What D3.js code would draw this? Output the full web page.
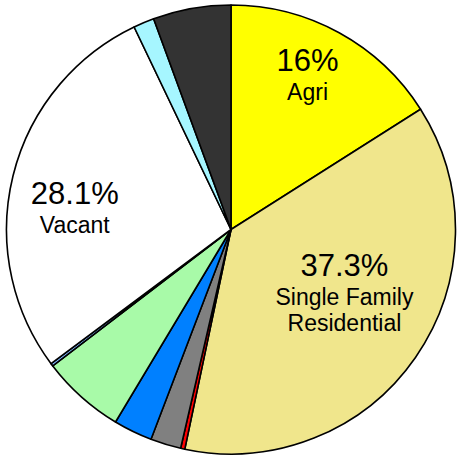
<!DOCTYPE html>
<html>
<head>
<meta charset="utf-8">
<script src="https://cdn.jsdelivr.net/npm/d3@7"></script>
<style>
  html, body { margin: 0; padding: 0; background: #fff; }
  svg { display: block; font-family: "Liberation Sans", Arial, sans-serif; }
</style>
</head>
<body>
<div id="chart"></div>
<script>
// land use shares, clockwise from 12 o'clock
var categories = ["Agri", "Single Family Residential", "Commercial", "Industrial",
                  "Public", "Multi Family Residential", "Utilities", "Vacant",
                  "Water", "Other"];
var shares = [16, 37.3, 0.3, 2.2, 2.8, 6.0, 0.2, 28.1, 1.5, 5.6];
var colors = ["#ffff00", "#f0e68c", "#ff0000", "#808080", "#0080ff",
              "#a8faa8", "#80b8ff", "#ffffff", "#a6f6ff", "#333333"];
// only the big slices carry a label
var labelled = ["Agri", "Single Family Residential", "Vacant"];
var labelLines = {
    "Agri": ["Agri"],
    "Single Family Residential": ["Single Family", "Residential"],
    "Vacant": ["Vacant"]
};

function drawPie(elementid) {
    var width = 457,
        height = 456,
        radius = 224.5;

    var data = categories.map(function(c, i) {
        return { name: c, value: shares[i], color: colors[i] };
    });

    var pie = d3.pie()
        .sort(null)
        .value(function(d) { return d.value; });

    var arc = d3.arc()
        .innerRadius(0)
        .outerRadius(radius);

    var labelArc = d3.arc()
        .innerRadius(radius * 0.68)
        .outerRadius(radius * 0.68);

    var svg = d3.select(elementid).append("svg")
        .attr("width", width)
        .attr("height", height);

    var g = svg.append("g")
        .attr("transform", "translate(231,229.5)");

    g.selectAll("path.slice")
        .data(pie(data))
        .enter().append("path")
        .attr("class", "slice")
        .attr("d", arc)
        .attr("fill", function(d) { return d.data.color; })
        .attr("stroke", "#000")
        .attr("stroke-width", 1.6)
        .attr("stroke-linejoin", "round");

    // small hand tweaks so labels sit where the original put them
    var nudge = {
        "Agri": [3, -9],
        "Single Family Residential": [-12, -12],
        "Vacant": [-8, 27]
    };

    var lab = g.selectAll("g.lab")
        .data(pie(data).filter(function(d) { return labelled.indexOf(d.data.name) >= 0; }))
        .enter().append("g")
        .attr("class", "lab")
        .attr("transform", function(d) {
            var c = labelArc.centroid(d);
            var n = nudge[d.data.name];
            return "translate(" + (c[0] + n[0]) + "," + (c[1] + n[1]) + ")";
        });

    lab.each(function(d) {
        var lines = labelLines[d.data.name];
        var blockH = 29 + 26 * (lines.length - 1);
        var base = -blockH / 2 - 1;   // baseline of the percentage line
        var sel = d3.select(this);
        sel.append("text")
            .attr("text-anchor", "middle")
            .attr("y", base)
            .style("font-size", "31px")
            .attr("fill", "#000")
            .text(d3.format("")(d.data.value) + "%");
        lines.forEach(function(t, i) {
            sel.append("text")
                .attr("text-anchor", "middle")
                .attr("y", base + 29 + 26 * i)
                .style("font-size", "23px")
                .attr("fill", "#000")
                .text(t);
        });
    });
}

drawPie("#chart");
</script>
</body>
</html>
